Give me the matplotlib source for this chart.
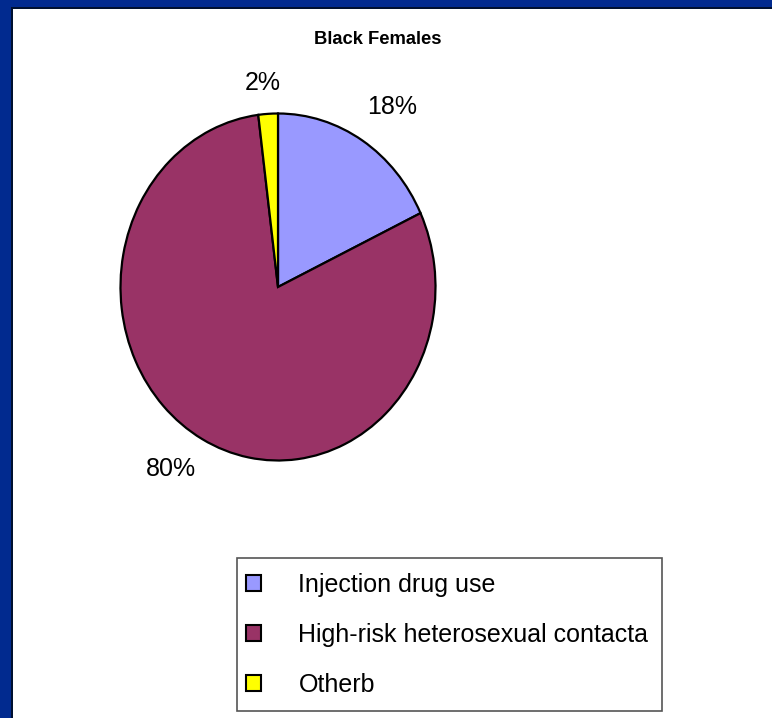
import numpy as np
import matplotlib.pyplot as plt
from matplotlib.patches import Rectangle

categories = ["Injection drug use", "High-risk heterosexual contacta", "Otherb"]
values = [18, 80, 2]
colors = ["#9999FF", "#993366", "#FFFF00"]

plt.rcParams['font.family'] = ['Liberation Sans', 'DejaVu Sans']

W, H = 772, 718
fig = plt.figure(figsize=(W / 100, H / 100), dpi=100)
fig.patch.set_facecolor("#012A8F")

# white slide panel with dark shadow edge
fig.patches.append(Rectangle((11 / W, 0), 1, (H - 7) / H, transform=fig.transFigure,
                             facecolor="#001030", edgecolor="none", zorder=-2))
fig.patches.append(Rectangle((13 / W, 0), 1, (H - 9) / H, transform=fig.transFigure,
                             facecolor="white", edgecolor="none", zorder=-1))

fig.text(378 / W, 1 - 40 / H, "Black Females", ha="center", va="center",
         fontsize=13.2, fontweight="bold")

cx, cy, rx, ry = 278, 287, 157.5, 173.5
ax = fig.add_axes([(cx - rx) / W, 1 - (cy + ry) / H, 2 * rx / W, 2 * ry / H])
ax.set_zorder(1)
wedges, texts, autotexts = ax.pie(values, colors=colors, startangle=90, counterclock=False,
                                  autopct='%1.0f%%', pctdistance=1.24,
                                  wedgeprops=dict(edgecolor="black", linewidth=1.6),
                                  textprops=dict(fontsize=18))
ax.set_aspect("auto")
ax.set_xlim(-1.0, 1.0)
ax.set_ylim(-1.0, 1.0)
for t in texts:
    t.set_text("")

# label placement is a bit irregular in the original
label_dist = [1.265, 1.25, 1.18]
label_shift = [-2.6, -4.0, 1.0]
for w, t, d, s in zip(wedges, autotexts, label_dist, label_shift):
    a = np.deg2rad((w.theta1 + w.theta2) / 2 + s)
    t.set_position((d * np.cos(a), d * np.sin(a)))

# legend box
fig.patches.append(Rectangle((237 / W, 1 - 711 / H), (662 - 237) / W, (711 - 558) / H,
                             transform=fig.transFigure, facecolor="white",
                             edgecolor="#555555", linewidth=1.2, zorder=1))
leg = fig.legend(wedges, categories, loc="upper left",
                 bbox_to_anchor=(246 / W, 1 - 573 / H),
                 fontsize=18, frameon=False, borderpad=0, labelspacing=1.03,
                 handlelength=0.6, handleheight=0.6, handletextpad=1.5,
                 borderaxespad=0)
leg.set_zorder(2)
for h in leg.legend_handles:
    h.set_linewidth(1.5)

fig.savefig("out.png", dpi=100, facecolor=fig.get_facecolor())
